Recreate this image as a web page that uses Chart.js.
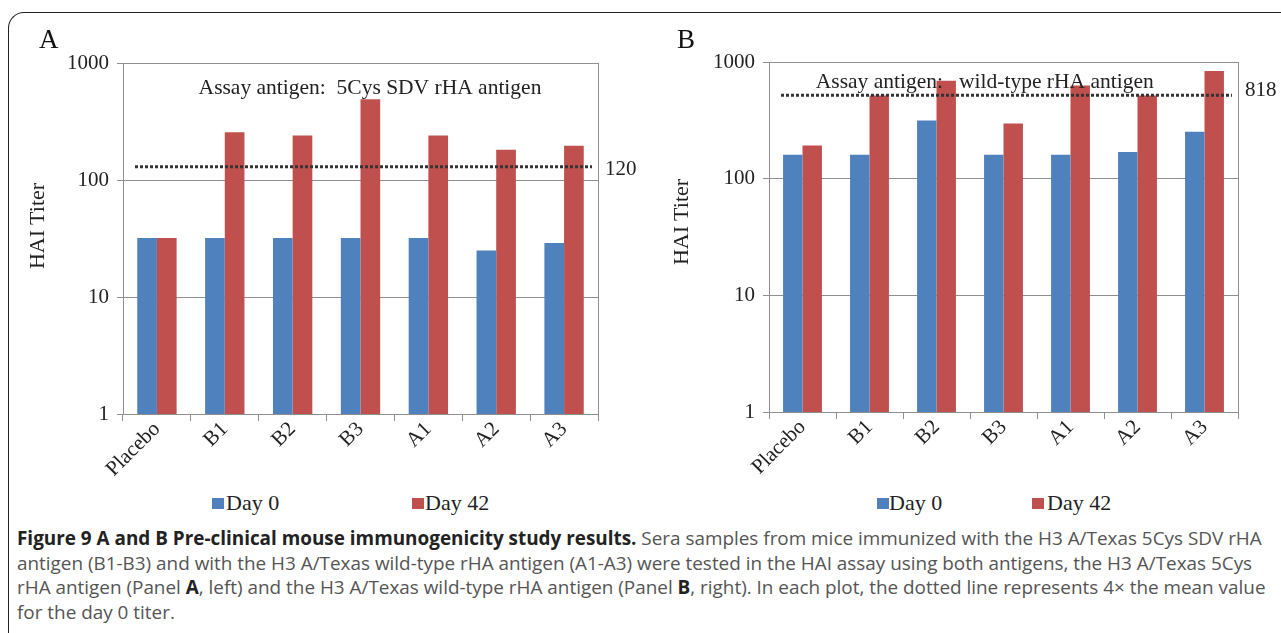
<!DOCTYPE html>
<html>
<head>
<meta charset="utf-8">
<script src="https://cdn.jsdelivr.net/npm/chart.js@4.4.1/dist/chart.umd.min.js"></script>
<style>
  html, body { margin: 0; padding: 0; background: #fff; }
  body { width: 1281px; height: 633px; position: relative; overflow: hidden; font-family: "Liberation Serif", "DejaVu Serif", serif; }
  .frame { position: absolute; left: 8px; top: 12px; width: 1300px; height: 700px; border-top: 1.5px solid #222; border-left: 1.5px solid #222; border-top-left-radius: 16px; }
  .wrap { position: absolute; top: 0; height: 480px; }
  #wrapA { left: 0; width: 640px; }
  #wrapB { left: 640px; width: 641px; }
  .letter { position: absolute; font-size: 27px; color: #111; }
  .ytitle { position: absolute; font-size: 22px; color: #222; transform: translate(-50%, -50%) rotate(-90deg); white-space: nowrap; }
  .legend { position: absolute; font-size: 22px; color: #222; white-space: nowrap; line-height: 24px; }
  .legend .sw { position: absolute; left: 0; top: 7px; width: 12px; height: 11px; }
  .legend .tx { position: absolute; top: 0; }
  .caption { position: absolute; left: 17px; top: 526px; font-family: "Open Sans", sans-serif; font-size: 18.9px; line-height: 24.5px; color: #555; white-space: nowrap; }
  .caption b { color: #222; }
</style>
</head>
<body>
<div class="frame"></div>
<div class="wrap" id="wrapA"><canvas id="chartA"></canvas></div>
<div class="wrap" id="wrapB"><canvas id="chartB"></canvas></div>
<div class="letter" style="left:39px; top:24px;">A</div>
<div class="letter" style="left:677px; top:24px;">B</div>
<div class="ytitle" style="left:37px; top:226px;">HAI Titer</div>
<div class="ytitle" style="left:681px; top:222px;">HAI Titer</div>
<div class="legend" style="left:212px; top:491px;"><span class="sw" style="background:#4F81BD"></span><span class="tx" style="left:14px">Day 0</span></div>
<div class="legend" style="left:412px; top:491px;"><span class="sw" style="background:#C0504D"></span><span class="tx" style="left:13px">Day 42</span></div>
<div class="legend" style="left:877px; top:491px;"><span class="sw" style="background:#4F81BD"></span><span class="tx" style="left:12px">Day 0</span></div>
<div class="legend" style="left:1032px; top:491px;"><span class="sw" style="background:#C0504D"></span><span class="tx" style="left:15px">Day 42</span></div>
<div class="caption"><b>Figure 9 A and B Pre-clinical mouse immunogenicity study results.</b> Sera samples from mice immunized with the H3 A/Texas 5Cys SDV rHA<br>antigen (B1-B3) and with the H3 A/Texas wild-type rHA antigen (A1-A3) were tested in the HAI assay using both antigens, the H3 A/Texas 5Cys<br>rHA antigen (Panel <b>A</b>, left) and the H3 A/Texas wild-type rHA antigen (Panel <b>B</b>, right). In each plot, the dotted line represents 4× the mean value<br>for the day 0 titer.</div>
<script>
const groups = ['Placebo', 'B1', 'B2', 'B3', 'A1', 'A2', 'A3'];
const yTicks = [1, 10, 100, 1000];

const day0A = [32, 32, 32, 32, 32, 25, 29];
const day42A = [32, 256, 240, 490, 240, 181, 196];
const cutoffA = 130;
const cutoffLabelA = '120';
const assayA = 'Assay antigen:  5Cys SDV rHA antigen';

const day0B = [160, 160, 315, 160, 160, 169, 252];
const day42B = [192, 516, 690, 297, 629, 516, 836];
const cutoffB = 520;
const cutoffLabelB = '818';
const assayB = 'Assay antigen:   wild-type rHA antigen';

const gridGray = '#8f8f8f';
const serif = '"Liberation Serif", "DejaVu Serif", serif';

const panelDecor = {
    id: 'panelDecor',
    afterDatasetsDraw(chart, args, opts) {
        const { ctx, chartArea: a, scales } = chart;
        ctx.save();
        // right edge of the plot box
        ctx.strokeStyle = gridGray;
        ctx.lineWidth = 1;
        ctx.beginPath();
        ctx.moveTo(a.right + 0.5, a.top);
        ctx.lineTo(a.right + 0.5, a.bottom);
        ctx.stroke();
        // dotted cutoff line
        const y = scales.y.getPixelForValue(opts.cutoff);
        ctx.strokeStyle = '#333';
        ctx.lineWidth = 3;
        ctx.setLineDash([3, 2]);
        ctx.beginPath();
        ctx.moveTo(a.left + 12, y);
        ctx.lineTo(a.right - 6, y);
        ctx.stroke();
        ctx.setLineDash([]);
        ctx.fillStyle = '#222';
        ctx.font = '21px ' + serif;
        ctx.textBaseline = 'middle';
        ctx.textAlign = 'left';
        ctx.fillText(opts.label, a.right + 7, y + opts.labelDy);
        // assay note
        ctx.font = '21.5px ' + serif;
        ctx.textAlign = 'center';
        ctx.fillText(opts.note, a.left + (a.right - a.left) * opts.noteX, a.top + opts.noteY);
        ctx.restore();
    }
};

function makeChart(id, day0, day42, yWidth, xHeight, padTop, padRight, decor) {
    return new Chart(document.getElementById(id), {
        type: 'bar',
        data: {
            labels: groups,
            datasets: [
                { label: 'Day 0', data: day0, backgroundColor: '#4F81BD' },
                { label: 'Day 42', data: day42, backgroundColor: '#C0504D' }
            ]
        },
        plugins: [panelDecor],
        options: {
            responsive: true,
            maintainAspectRatio: false,
            animation: false,
            layout: { padding: { top: padTop, right: padRight, left: 0, bottom: 0 } },
            datasets: { bar: { categoryPercentage: 0.58, barPercentage: 1 } },
            plugins: {
                legend: { display: false },
                tooltip: { enabled: false },
                panelDecor: decor
            },
            scales: {
                x: {
                    grid: { offset: true, drawOnChartArea: false, tickLength: 7, color: gridGray },
                    border: { color: gridGray },
                    ticks: { minRotation: 45, maxRotation: 45, color: '#222', font: { family: serif, size: 21 }, padding: -4 },
                    afterFit(scale) { scale.height = xHeight; }
                },
                y: {
                    type: 'logarithmic',
                    min: 1,
                    max: 1000,
                    afterBuildTicks(scale) { scale.ticks = yTicks.map(v => ({ value: v })); },
                    grid: { color: gridGray, tickLength: 6 },
                    border: { color: gridGray },
                    ticks: {
                        color: '#222',
                        font: { family: serif, size: 21 },
                        padding: 8,
                        callback: v => String(v)
                    },
                    afterFit(scale) { scale.width = yWidth; }
                }
            }
        }
    });
}

makeChart('chartA', day0A, day42A, 123, 66, 63, 42,
    { cutoff: cutoffA, label: cutoffLabelA, labelDy: 3, note: assayA, noteX: 0.52, noteY: 25 });
makeChart('chartB', day0B, day42B, 129, 68, 62, 43,
    { cutoff: cutoffB, label: cutoffLabelB, labelDy: -5, note: assayB, noteX: 0.46, noteY: 20 });
</script>
</body>
</html>
